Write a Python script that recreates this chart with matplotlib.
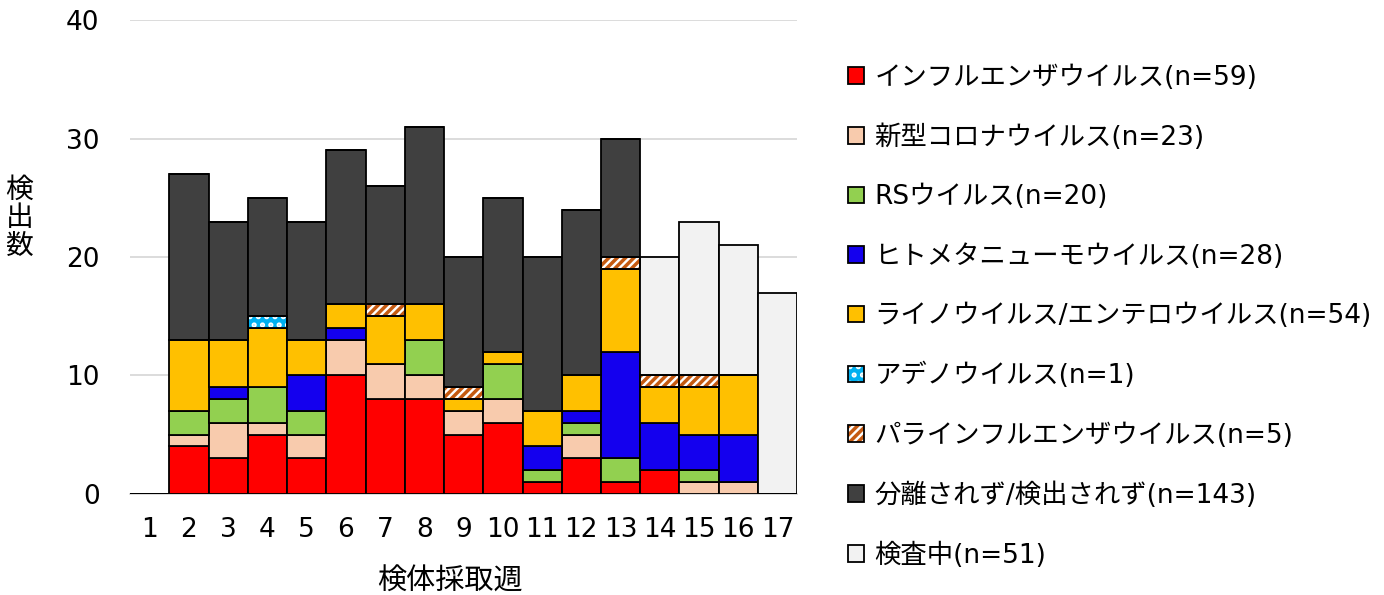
import numpy as np
import matplotlib.pyplot as plt
from matplotlib.legend_handler import HandlerTuple

plt.rcParams['font.family'] = ['DejaVu Sans', 'Noto Sans CJK JP']
plt.rcParams['hatch.linewidth'] = 2.5

weeks = [str(i) for i in range(1, 18)]
flu     = [0, 4, 3, 5, 3, 10, 8, 8, 5, 6, 1, 3, 1, 2, 0, 0, 0]
covid   = [0, 1, 3, 1, 2, 3, 3, 2, 2, 2, 0, 2, 0, 0, 1, 1, 0]
rs      = [0, 2, 2, 3, 2, 0, 0, 3, 0, 3, 1, 1, 2, 0, 1, 0, 0]
hmpv    = [0, 0, 1, 0, 3, 1, 0, 0, 0, 0, 2, 1, 9, 4, 3, 4, 0]
rhino   = [0, 6, 4, 5, 3, 2, 4, 3, 1, 1, 3, 3, 7, 3, 4, 5, 0]
adeno   = [0, 0, 0, 1, 0, 0, 0, 0, 0, 0, 0, 0, 0, 0, 0, 0, 0]
para    = [0, 0, 0, 0, 0, 0, 1, 0, 1, 0, 0, 0, 1, 1, 1, 0, 0]
undet   = [0, 14, 10, 10, 10, 13, 10, 15, 11, 13, 13, 14, 10, 0, 0, 0, 0]
pending = [0, 0, 0, 0, 0, 0, 0, 0, 0, 0, 0, 0, 0, 10, 13, 11, 17]

labels = ['インフルエンザウイルス(n=59)', '新型コロナウイルス(n=23)', 'RSウイルス(n=20)',
          'ヒトメタニューモウイルス(n=28)', 'ライノウイルス/エンテロウイルス(n=54)',
          'アデノウイルス(n=1)', 'パラインフルエンザウイルス(n=5)',
          '分離されず/検出されず(n=143)', '検査中(n=51)']
series = [flu, covid, rs, hmpv, rhino, adeno, para, undet, pending]
colors = ['#FF0000', '#F8CBAD', '#92D050', '#1400EE', '#FFC000',
          '#00B0F0', '#FFFFFF', '#404040', '#F2F2F2']
# hatch pattern, hatch colour (None = plain fill)
hatches = [None, None, None, None, None, ('..', '#FFFFFF'), ('////', '#C55A11'), None, None]

fig = plt.figure(figsize=(13.84, 5.95), dpi=100)
ax = fig.add_axes([0.094, 0.170, 0.482, 0.796])

x = np.arange(len(weeks))
bottom = np.zeros(len(weeks))
handles = []
for vals, col, h in zip(series, colors, hatches):
    vals = np.array(vals, dtype=float)
    if h is None:
        b = ax.bar(x, vals, 1.0, bottom=bottom, color=col, edgecolor='black', linewidth=1.3, zorder=3)
        handles.append(b)
    else:
        f = ax.bar(x, vals, 1.0, bottom=bottom, color=col, edgecolor=h[1], hatch=h[0], linewidth=0, zorder=3)
        o = ax.bar(x, vals, 1.0, bottom=bottom, fill=False, edgecolor='black', linewidth=1.3, zorder=4)
        handles.append((f, o))
    bottom += vals

ax.set_ylim(0, 40)
ax.set_xlim(-0.5, len(weeks) - 0.5)
ax.set_yticks([0, 10, 20, 30, 40])
ax.set_xticks(x)
ax.set_xticklabels(weeks)
ax.tick_params(length=0, labelsize=19)
ax.tick_params(axis='x', pad=17)
ax.tick_params(axis='y', pad=22)
ax.grid(axis='y', color='#D9D9D9', linewidth=1.3, zorder=0)
for s in ['top', 'right', 'left']:
    ax.spines[s].set_visible(False)
ax.spines['bottom'].set_color('#D9D9D9')
ax.spines['bottom'].set_linewidth(1.3)

ax.set_xlabel('検体採取週', fontsize=21)
ax.xaxis.set_label_coords(0.48, -0.155)
fig.text(0.004, 0.634, '検\n出\n数', fontsize=20, ha='left', va='center', linespacing=1.0)

fig.legend(handles, labels, loc='upper left', bbox_to_anchor=(0.5955, 0.931),
           frameon=False, fontsize=19, handlelength=0.6, handleheight=0.6,
           handletextpad=0.4, labelspacing=1.27,
           handler_map={tuple: HandlerTuple(ndivide=1, pad=0)})

fig.savefig('out.png', dpi=100)
